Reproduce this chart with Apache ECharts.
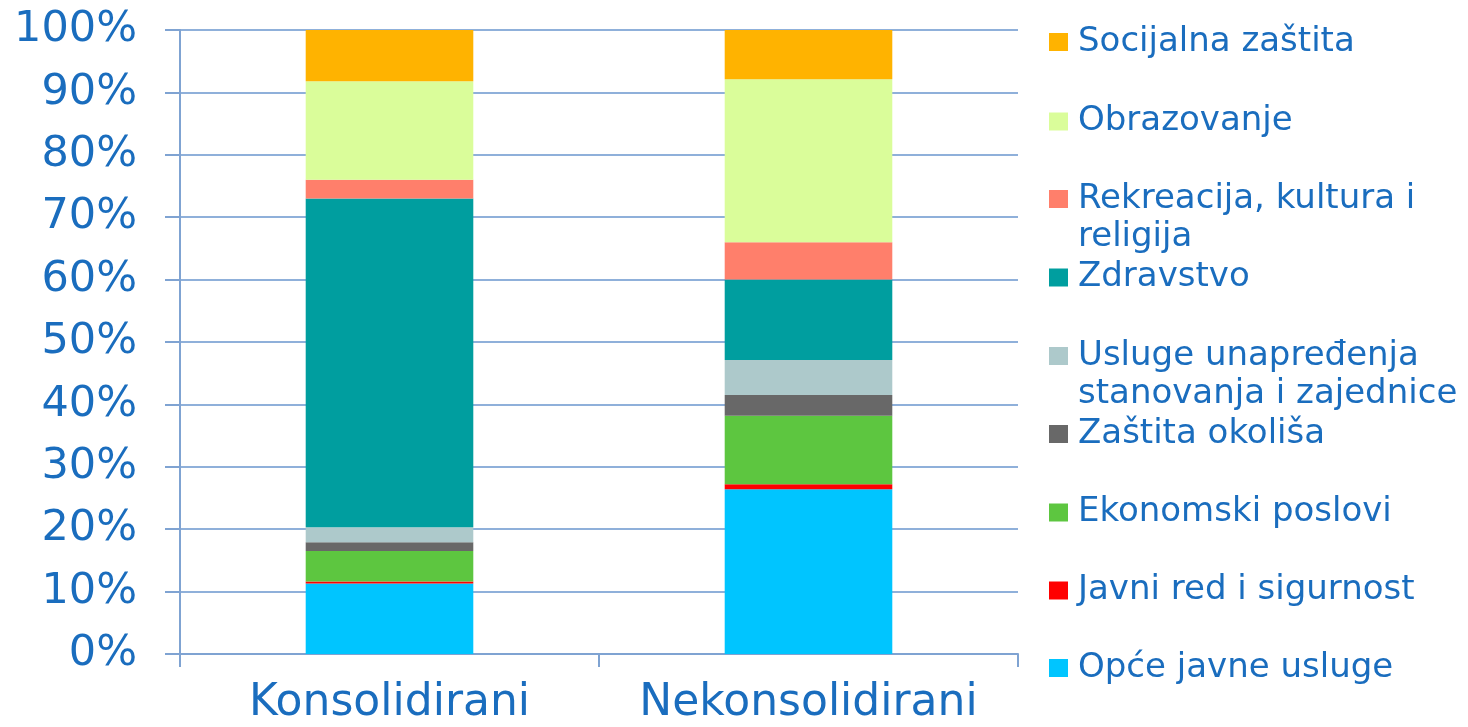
<!DOCTYPE html>
<html>
<head>
<meta charset="utf-8">
<script src="https://cdn.jsdelivr.net/npm/echarts@6/dist/echarts.min.js"></script>
<style>html,body{margin:0;padding:0;background:#fff;}#c{width:1468px;height:727px;}</style>
</head>
<body>
<div id="c"></div>
<script>
const categories = ['Konsolidirani', 'Nekonsolidirani'];
const yTicks = [0, 10, 20, 30, 40, 50, 60, 70, 80, 90, 100];
// stacked bottom -> top
const seriesNames = ['Opće javne usluge', 'Javni red i sigurnost', 'Ekonomski poslovi', 'Zaštita okoliša',
  'Usluge unapređenja stanovanja i zajednice', 'Zdravstvo', 'Rekreacija, kultura i religija', 'Obrazovanje', 'Socijalna zaštita'];
const opceJavneUsluge = [11.3, 26.4];
const javniRed = [0.3, 0.8];
const ekonomskiPoslovi = [4.9, 11.0];
const zastitaOkolisa = [1.4, 3.3];
const uslugeStanovanja = [2.4, 5.6];
const zdravstvo = [52.7, 12.9];
const rekreacija = [3.0, 6.0];
const obrazovanje = [15.8, 26.1];
const socijalnaZastita = [8.2, 7.9];
const seriesValues = [opceJavneUsluge, javniRed, ekonomskiPoslovi, zastitaOkolisa, uslugeStanovanja, zdravstvo, rekreacija, obrazovanje, socijalnaZastita];
const colors = ['#00C5FF', '#FF0000', '#5DC640', '#686868', '#ADC9CB', '#009E9F', '#FF7F6B', '#DAFD9A', '#FFB300'];
const legendLabels = {
  'Usluge unapređenja stanovanja i zajednice': '\nUsluge unapređenja\nstanovanja i zajednice',
  'Rekreacija, kultura i religija': '\nRekreacija, kultura i\nreligija'
};

const textColor = '#1A6DBE';
const axisColor = '#7FA3D2';
const font = 'DejaVu Sans';

// legend item vertical centres (top to bottom), layout only
const legendCenters = [42, 121.5, 199, 277.5, 356, 434, 512.5, 590.5, 668];
const lh = 38;
const legendOrder = seriesNames.slice().reverse();
const legends = legendOrder.map((name, i) => {
  const multi = !!legendLabels[name];
  const boxH = multi ? lh * 3 : lh;
  return {
    show: true,
    orient: 'vertical',
    left: 1049,
    top: legendCenters[i] - boxH / 2,
    padding: 0,
    itemWidth: 19,
    itemHeight: 18,
    icon: 'rect',
    data: [name],
    selectedMode: false,
    formatter: (n) => legendLabels[n] || n,
    textStyle: { color: textColor, fontSize: 34, fontFamily: font, lineHeight: lh, padding: [0, 0, 0, 5] }
  };
});

const chart = echarts.init(document.getElementById('c'), null, { renderer: 'canvas' });
chart.setOption({
  animation: false,
  backgroundColor: '#ffffff',
  color: colors,
  legend: legends,
  grid: { left: 180, right: 450, top: 30, bottom: 73, containLabel: false },
  xAxis: {
    type: 'category',
    data: categories,
    axisLine: { show: true, lineStyle: { color: axisColor, width: 2 } },
    axisTick: { show: true, interval: 0, length: 13, lineStyle: { color: axisColor, width: 2 } },
    axisLabel: { color: textColor, fontSize: 44, fontFamily: font, margin: 28, interval: 0, hideOverlap: false }
  },
  yAxis: {
    type: 'value',
    min: 0,
    max: 100,
    interval: 10,
    axisLine: { show: true, lineStyle: { color: axisColor, width: 2 } },
    axisTick: { show: true, length: 15, lineStyle: { color: axisColor, width: 2 } },
    splitLine: { show: true, lineStyle: { color: '#8FB0DA', width: 2 } },
    axisLabel: { color: textColor, fontSize: 43, fontFamily: font, margin: 43,
      formatter: (v) => yTicks.includes(v) ? v + '%' : '' }
  },
  series: seriesNames.map((name, i) => ({
    name: name,
    type: 'bar',
    stack: 'total',
    barWidth: '40%',
    data: seriesValues[i],
    itemStyle: { color: colors[i] }
  }))
});
</script>
</body>
</html>
